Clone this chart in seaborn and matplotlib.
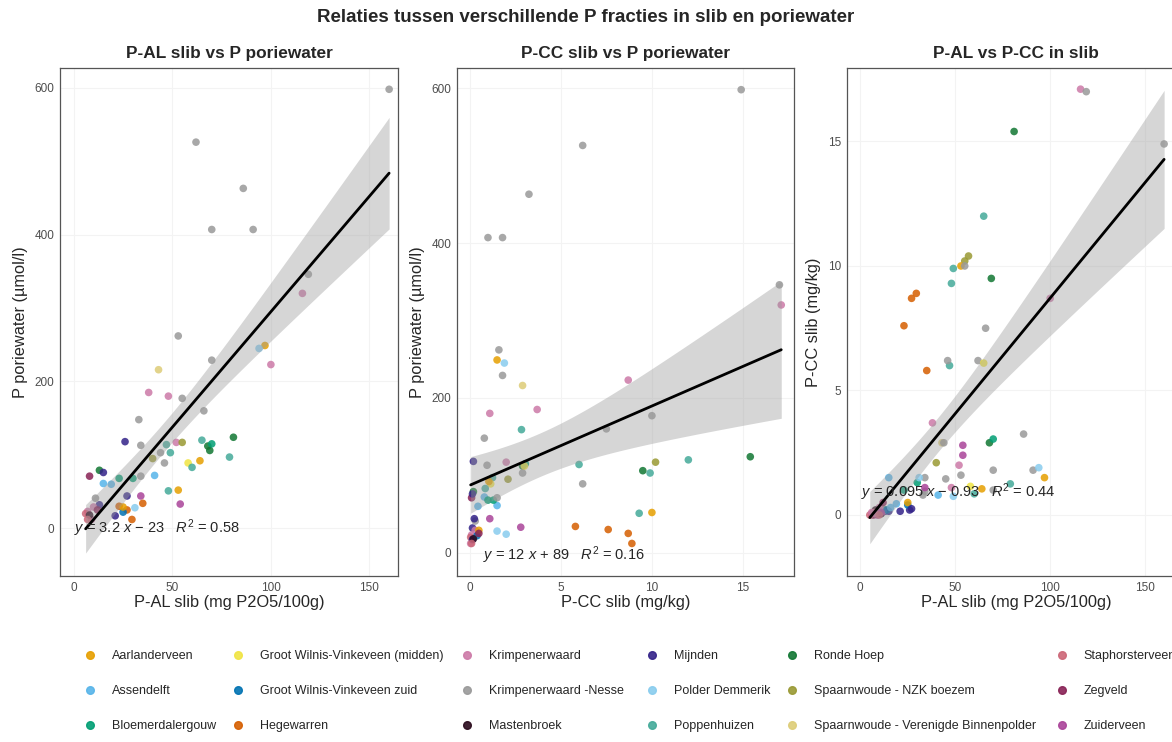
import numpy as np
import pandas as pd
import matplotlib
matplotlib.use("Agg")
import matplotlib.pyplot as plt
from matplotlib.lines import Line2D
import seaborn as sns

nan = float("nan")

# locaties en kleuren (legenda-volgorde)
locations = ["Aarlanderveen", "Assendelft", "Bloemerdalergouw",
             "Groot Wilnis-Vinkeveen (midden)", "Groot Wilnis-Vinkeveen zuid", "Hegewarren",
             "Krimpenerwaard", "Krimpenerwaard -Nesse", "Mastenbroek",
             "Mijnden", "Polder Demmerik", "Poppenhuizen",
             "Ronde Hoep", "Spaarnwoude - NZK boezem", "Spaarnwoude - Verenigde Binnenpolder",
             "Staphorsterveen", "Zegveld", "Zuiderveen"]
codes = ["AA", "AS", "BL", "GM", "GZ", "HE", "KR", "KN", "MA",
         "MI", "PD", "PO", "RH", "SN", "SV", "ST", "ZE", "ZU"]
colors = ["#E69F00", "#56B4E9", "#009E73", "#F0E442", "#0072B2", "#D55E00",
          "#CC79A7", "#999999", "#2A0A1C", "#332288", "#88CCEE", "#44AA99",
          "#117733", "#999933", "#DDCC77", "#CC6677", "#882255", "#AA4499"]

sample_code = ["KN", "KN", "KN", "KN", "KN", "KR", "AA", "KN",
               "KR", "KN", "SV", "KR", "KR", "KN", "KN", "MI",
               "KN", "PO", "KR", "SN", "PO", "PO", "RH", "RH",
               "RH", "BL", "PO", "KN", "SN", "KN", "GM", "AA",
               "PO", "AS", "ZE", "RH", "MI", "AS", "AS", "BL",
               "BL", "KN", "PO", "AA", "ZU", "ZU", "MI", "KN",
               "KR", "KR", "ST", "KR", "MI", "HE", "HE", "HE",
               "HE", "PD", "GZ", "AA", "MI", "ZE", "PD", "ZU",
               "PD", "KN", "SN", "KN", "GM", "PO", "PD", "KN",
               "MA", "ST", "GM",
               "KR", "KR", "ST", "ZU", "KR", "MA", "ZE", "KN",
               "KR", "ST", "GZ", "AS", "KR", "ZU", "KR", "ST"]
p_al = [160, 62, 86, 70, 91, 116, 97, 53,
        100, 70, 43, 38, 48, 33, 66, 26,
        34, 47, 52, 55, 49, 65, 81, 69,
        68, 70, 79, 44, 40, 46, 58, 64,
        60, 41, 8, 13, 15, 15, 19, 23,
        30, 34, 48, 53, 34, 54, 13, 11,
        10, 7, 6, 9, 21, 35, 23, 27,
        29.5, 31, 25, 25, 27, 12, 94, 54,
        49, 55, 57, 45, 65, nan, nan, 119,
        8, 7, nan,
        6, 7, 8, 9, 10, 11, 7, 9,
        12, 5, 14, 16, 8, 11, 6, 10]
p_cc = [14.9, 6.2, 3.25, 1.0, 1.8, 17.1, 1.5, 1.6,
        8.7, 1.8, 2.9, 3.7, 1.1, 0.8, 7.5, 0.2,
        0.95, 6.0, 2.0, 10.2, 9.9, 12.0, 15.4, 9.5,
        2.9, 3.05, 1.25, 2.9, 2.1, 6.2, 1.15, 1.05,
        0.85, 0.8, 0.1, 0.2, 0.15, 1.5, 0.45, 1.0,
        1.3, 1.5, 9.3, 10.0, 1.1, 2.8, 0.15, 0.3,
        0.3, 0.1, 0.05, 0.05, 0.15, 5.8, 7.6, 8.7,
        8.9, 1.5, 0.4, 0.5, 0.25, 0.5, 1.9, 2.4,
        0.75, 10.0, 10.4, 1.45, 6.1, 2.84, 2.0, 17.0,
        0.2, 0.1, 3.0,
        0.0, 0.05, 0.1, 0.0, 0.1, 0.05, 0.0, 0.1,
        0.15, 0.0, 0.2, 0.3, 0.05, 0.1, 0.1, 0.0]
p_pw = [598, 526, 463, 407, 407, 320, 249, 262,
        223, 229, 216, 185, 180, 148, 160, 118,
        113, 114, 117, 117, 103, 120, 124, 106,
        112, 115, 97, 103, 95, 89, 89, 92,
        83, 72, 71, 79, 76, 61, 60, 68,
        68, 71, 51, 52, 44, 33, 32, 41,
        29, 23, 20, 12, 17, 34, 30, 25,
        12, 28, 22, 29, 44, 25, 245, nan,
        nan, 177, nan, nan, nan, 159, 24, 346,
        18, 12, 112,
        nan, nan, nan, nan, nan, nan, nan, nan,
        nan, nan, nan, nan, nan, nan, nan, nan]

# regressielabels zoals in de figuur
eq_labels = ["$y$ = 3.2 $x$ \u2212 23   $R^2$ = 0.58",
             "$y$ = 12 $x$ + 89   $R^2$ = 0.16",
             "$y$ = 0.095 $x$ \u2212 0.93   $R^2$ = 0.44"]

name_of = dict(zip(codes, locations))
df = pd.DataFrame({"locatie": [name_of[c] for c in sample_code],
                   "pal": p_al, "pcc": p_cc, "pw": p_pw})

try:
    from scipy import stats
    def tq(dof):
        return stats.t.ppf(0.975, dof)
except ImportError:
    def tq(dof):
        return 1.99


def ci_band(x, y, xs):
    # 95% betrouwbaarheidsband van de lineaire fit (zoals geom_smooth)
    b, a = np.polyfit(x, y, 1)
    n = len(x)
    res = y - (a + b * x)
    s = np.sqrt(np.sum(res ** 2) / (n - 2))
    sxx = np.sum((x - x.mean()) ** 2)
    se = s * np.sqrt(1 / n + (xs - x.mean()) ** 2 / sxx)
    fit = a + b * xs
    return fit - tq(n - 2) * se, fit + tq(n - 2) * se


sns.set_style("white")
plt.rcParams["font.family"] = ["Liberation Sans", "DejaVu Sans"]
plt.rcParams["mathtext.fontset"] = "custom"
plt.rcParams["mathtext.rm"] = "Liberation Sans"
plt.rcParams["mathtext.it"] = "Liberation Sans:italic"

fig = plt.figure(figsize=(11.72, 7.42), dpi=100)
W, H = 1172, 742
ax1 = fig.add_axes([60 / W, 1 - 576 / H, 338 / W, 508 / H])
ax2 = fig.add_axes([457 / W, 1 - 576 / H, 337 / W, 508 / H])
ax3 = fig.add_axes([847 / W, 1 - 576 / H, 338 / W, 508 / H])

panels = [
    (ax1, "pal", "pw", "P-AL slib vs P poriewater", "P-AL slib (mg P2O5/100g)", "P poriewater (µmol/l)",
     (-7, 164.5), (-65, 627), [0, 50, 100, 150], [0, 200, 400, 600], (0, 0)),
    (ax2, "pcc", "pw", "P-CC slib vs P poriewater", "P-CC slib (mg/kg)", "P poriewater (µmol/l)",
     (-0.7, 17.8), (-30, 626), [0, 5, 10, 15], [0, 200, 400, 600], (0.7, -3)),
    (ax3, "pal", "pcc", "P-AL vs P-CC in slib", "P-AL slib (mg P2O5/100g)", "P-CC slib (mg/kg)",
     (-7, 171), (-2.45, 17.95), [0, 50, 100, 150], [0, 5, 10, 15], (0.5, 0.9)),
]

for i, (ax, xc, yc, title, xl, yl, xlim, ylim, xt, yt, lab_pos) in enumerate(panels):
    sns.scatterplot(data=df, x=xc, y=yc, hue="locatie", hue_order=locations, palette=colors,
                    s=30, linewidth=0, alpha=0.85, ax=ax, legend=False)
    sub = df[[xc, yc]].dropna()
    xs = np.linspace(sub[xc].min(), sub[xc].max(), 100)
    lo, hi = ci_band(sub[xc].values, sub[yc].values, xs)
    ax.fill_between(xs, lo, hi, color="#999999", alpha=0.4, lw=0)
    sns.regplot(data=sub, x=xc, y=yc, scatter=False, ax=ax, color="black", ci=None,
                truncate=True, line_kws=dict(lw=2))
    ax.text(lab_pos[0], lab_pos[1], eq_labels[i], fontsize=10.5, ha="left", va="center")
    ax.set_xlim(*xlim)
    ax.set_ylim(*ylim)
    ax.set_xticks(xt)
    ax.set_yticks(yt)
    ax.grid(True, color="#f3f3f3", lw=0.8)
    ax.set_axisbelow(True)
    ax.tick_params(length=0, labelsize=8.5, labelcolor="#4d4d4d", pad=4)
    ax.set_xlabel(xl, fontsize=11.8, labelpad=1)
    ax.set_ylabel(yl, fontsize=11.8, labelpad=5)
    ax.set_title(title, fontsize=12.4, fontweight="bold", pad=7)
    for sp in ax.spines.values():
        sp.set_color("#555555")
        sp.set_linewidth(0.9)

fig.suptitle("Relaties tussen verschillende P fracties in slib en poriewater",
             fontsize=13.5, fontweight="bold", y=1 - 18 / H, va="center")

# legenda in 6 kolommen van 3
col_x = [90, 238, 467, 652, 792, 1062]
for c in range(6):
    handles = [Line2D([], [], marker="o", ls="", color=colors[k], markersize=5.5, alpha=0.9)
               for k in range(3 * c, 3 * c + 3)]
    fig.legend(handles, locations[3 * c:3 * c + 3], loc="upper left",
               bbox_to_anchor=((col_x[c] - 6.5) / W, 1 - 650 / H), frameon=False,
               fontsize=9, handlelength=1, handletextpad=1.25, labelspacing=1.85,
               borderpad=0, borderaxespad=0)

fig.savefig("out.png", dpi=100)
